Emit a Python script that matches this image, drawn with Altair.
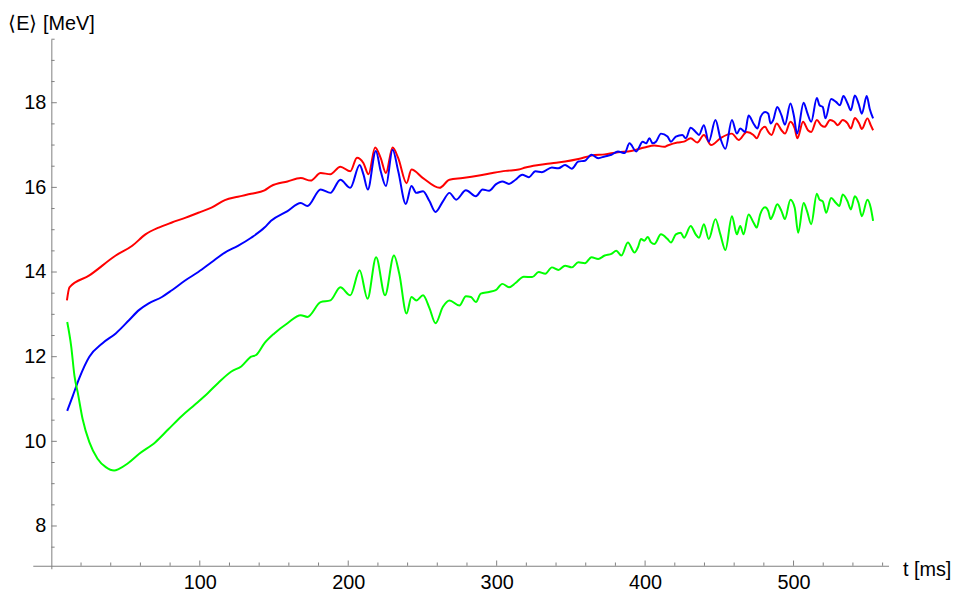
import altair as alt
import pandas as pd

# ---- data ----
t_red = [10.5, 12.2, 25.6, 43.4, 54.5, 63.4, 72.3, 81.2, 90.1, 99.0, 107.9, 116.9, 125.7, 134.6, 143.6,
         148.0, 159.1, 168.0, 174.7, 181.4, 188.0, 194.7, 201.4, 205.9, 210.3, 213.7, 218.1, 221.9, 225.4,
         229.9, 233.7, 239.3, 242.6, 250.4, 261.5, 268.2, 277.1, 288.2, 297.2, 306.0, 314.9, 319.4, 328.3,
         337.2, 346.1, 355.0, 363.9, 372.8, 381.7, 390.6, 399.5, 406.2, 412.9, 415.1, 421.8, 426.2, 430.7,
         435.1, 439.6, 444.5, 450.7, 458.5, 463.0, 468.5, 473.0, 475.2, 477.9, 480.8, 483.0, 485.2, 488.6,
         491.9, 494.2, 497.9, 500.8, 502.6, 506.4, 509.7, 511.9, 515.7, 518.6, 520.9, 524.6, 527.5, 529.8,
         533.1, 536.4, 538.6, 541.3, 544.2, 546.0, 549.8, 552.0, 553.6]
e_red = [13.33, 13.64, 13.92, 14.39, 14.62, 14.89, 15.05, 15.17, 15.28, 15.40, 15.52, 15.70, 15.78, 15.85, 15.93,
         16.03, 16.14, 16.22, 16.16, 16.34, 16.31, 16.49, 16.38, 16.70, 16.57, 16.31, 16.94, 16.69, 16.34,
         16.94, 16.69, 16.10, 16.42, 16.22, 15.99, 16.18, 16.22, 16.28, 16.34, 16.39, 16.42, 16.47, 16.53,
         16.57, 16.61, 16.67, 16.75, 16.78, 16.83, 16.86, 16.94, 16.99, 16.96, 16.99, 17.06, 17.08, 17.16,
         17.06, 17.24, 17.00, 17.16, 17.27, 17.12, 17.31, 17.24, 17.16, 17.35, 17.43, 17.31, 17.24, 17.51,
         17.35, 17.27, 17.55, 17.39, 17.16, 17.55, 17.35, 17.31, 17.59, 17.47, 17.43, 17.59, 17.55, 17.47,
         17.59, 17.51, 17.39, 17.64, 17.51, 17.38, 17.63, 17.47, 17.35]

t_blue = [10.7, 14.4, 18.9, 25.6, 34.5, 43.4, 52.3, 59.0, 65.6, 74.5, 81.2, 90.1, 99.0, 107.9, 116.9, 125.7,
          134.6, 143.6, 148.0, 159.1, 168.0, 172.5, 181.4, 188.0, 194.7, 201.4, 207.7, 210.3, 213.2, 218.6,
          221.9, 225.4, 229.9, 233.7, 238.8, 242.6, 245.9, 250.4, 254.8, 258.8, 263.8, 268.2, 272.7, 279.3,
          286.0, 290.5, 294.9, 299.4, 303.8, 308.3, 312.7, 317.2, 321.6, 326.1, 330.5, 337.2, 341.6, 346.1,
          350.6, 355.0, 359.5, 363.9, 368.4, 372.8, 377.3, 381.7, 386.2, 389.5, 394.0, 398.4, 400.7, 402.9,
          405.1, 407.3, 410.7, 415.1, 417.4, 420.7, 425.1, 427.4, 430.7, 434.1, 436.3, 439.6, 442.9, 447.4,
          450.7, 454.1, 458.5, 461.8, 464.1, 467.4, 469.7, 473.0, 475.7, 477.9, 480.8, 483.0, 484.5, 486.3,
          489.0, 491.9, 494.2, 497.9, 500.2, 502.4, 506.8, 509.1, 511.9, 515.7, 517.5, 519.7, 521.5, 525.3,
          528.6, 531.3, 533.6, 536.4, 538.6, 541.3, 543.8, 546.0, 549.3, 551.3, 553.6]
e_blue = [10.72, 11.07, 11.50, 12.00, 12.32, 12.55, 12.86, 13.10, 13.26, 13.41, 13.57, 13.80, 14.00, 14.23, 14.46, 14.62,
          14.81, 15.05, 15.21, 15.44, 15.63, 15.56, 15.95, 15.87, 16.18, 15.99, 16.53, 16.30, 15.95, 16.86,
          16.38, 16.03, 16.89, 16.38, 15.61, 16.03, 15.87, 15.91, 15.67, 15.42, 15.67, 15.87, 15.71, 15.93,
          15.79, 15.95, 15.92, 16.07, 16.14, 16.08, 16.18, 16.30, 16.24, 16.38, 16.36, 16.47, 16.45, 16.53,
          16.44, 16.61, 16.63, 16.77, 16.69, 16.73, 16.77, 16.85, 16.81, 17.04, 16.85, 17.08, 17.04, 17.16,
          17.04, 17.08, 17.27, 17.20, 17.08, 17.20, 17.24, 17.16, 17.41, 17.31, 17.24, 17.47, 17.08, 17.59,
          17.16, 16.91, 17.59, 17.27, 17.39, 17.31, 17.70, 17.51, 17.39, 17.67, 17.78, 17.74, 17.51, 17.59,
          17.90, 17.70, 17.48, 17.98, 17.70, 17.27, 18.00, 17.78, 17.55, 18.11, 17.94, 17.90, 17.63, 18.09,
          18.02, 17.94, 18.16, 17.98, 17.82, 18.17, 17.98, 17.74, 18.16, 17.86, 17.63]

t_green = [10.7, 13.4, 15.6, 17.8, 21.1, 25.6, 31.1, 36.7, 42.3, 45.6, 51.2, 59.0, 70.1, 79.0, 87.9, 96.8,
           105.7, 112.4, 121.3, 127.9, 134.6, 138.0, 143.6, 150.2, 159.1, 168.0, 172.5, 181.4, 188.0, 194.7,
           201.4, 207.7, 213.0, 218.8, 224.8, 230.8, 234.4, 239.3, 242.6, 245.9, 250.4, 254.8, 258.8, 263.8,
           268.2, 274.9, 279.3, 282.7, 286.0, 289.3, 294.9, 299.4, 303.8, 308.3, 312.7, 318.3, 323.9, 328.3,
           332.8, 337.2, 341.6, 346.1, 350.6, 355.0, 359.5, 363.9, 368.4, 372.8, 377.3, 380.6, 384.0, 388.4,
           392.9, 395.1, 397.3, 399.5, 401.8, 404.0, 406.2, 410.7, 415.1, 417.4, 420.7, 424.0, 426.2, 430.7,
           434.1, 436.3, 439.6, 442.9, 447.4, 450.7, 454.1, 458.5, 461.8, 464.1, 466.3, 469.7, 473.0, 475.2,
           477.5, 480.8, 483.0, 484.5, 486.3, 489.0, 491.9, 494.2, 497.9, 500.8, 503.1, 506.8, 509.1, 511.9,
           515.7, 517.5, 519.7, 522.0, 525.3, 528.6, 530.9, 533.1, 536.4, 538.6, 541.3, 543.8, 546.0, 549.8,
           552.0, 553.6]
e_green = [12.82, 12.24, 11.54, 11.15, 10.52, 9.98, 9.59, 9.39, 9.31, 9.35, 9.47, 9.70, 9.98, 10.29, 10.60, 10.87,
           11.15, 11.38, 11.65, 11.77, 12.00, 12.04, 12.32, 12.55, 12.79, 12.98, 12.94, 13.29, 13.33, 13.64,
           13.45, 14.04, 13.37, 14.35, 13.45, 14.39, 13.96, 13.02, 13.41, 13.33, 13.45, 13.14, 12.79, 13.18,
           13.33, 13.21, 13.43, 13.41, 13.29, 13.49, 13.53, 13.57, 13.72, 13.64, 13.74, 13.89, 13.88, 14.00,
           13.96, 14.11, 14.05, 14.15, 14.11, 14.23, 14.21, 14.35, 14.31, 14.39, 14.43, 14.50, 14.39, 14.70,
           14.46, 14.58, 14.78, 14.74, 14.83, 14.70, 14.66, 14.89, 14.78, 14.70, 14.89, 14.93, 14.81, 15.09,
           14.89, 14.81, 15.13, 14.78, 15.25, 14.89, 14.52, 15.32, 14.89, 15.09, 14.89, 15.36, 15.17, 15.05,
           15.36, 15.53, 15.44, 15.25, 15.36, 15.60, 15.44, 15.25, 15.71, 15.52, 14.93, 15.63, 15.44, 15.13,
           15.85, 15.71, 15.67, 15.40, 15.75, 15.63, 15.56, 15.83, 15.67, 15.48, 15.79, 15.63, 15.32, 15.71,
           15.52, 15.21]

series_names = ["red", "blue", "green"]
series_colors = ["#ff0000", "#0000ff", "#00ff00"]

x_labels = [100, 200, 300, 400, 500]
y_labels = [8, 10, 12, 14, 16, 18]
x_minor = [v for v in range(20, 561, 20) if v not in x_labels]
y_minor = [v / 2 for v in range(15, 40) if v / 2 not in y_labels]

X_DOMAIN = [-12.5, 564]
Y_DOMAIN = [6.99, 19.5]
X_AXIS_Y = 7.06
FONT = "Liberation Sans"
GRAY = "#7f7f7f"

rows = []
for name, ts, es in [("red", t_red, e_red), ("blue", t_blue, e_blue), ("green", t_green, e_green)]:
    for i, (t, e) in enumerate(zip(ts, es)):
        rows.append({"series": name, "t": t, "E": e, "i": i})
df = pd.DataFrame(rows)

xscale = alt.Scale(domain=X_DOMAIN, nice=False, zero=False)
yscale = alt.Scale(domain=Y_DOMAIN, nice=False, zero=False)

xaxis = alt.Axis(
    values=x_labels, title="t [ms]", grid=False, ticks=False,
    domainColor=GRAY, domainWidth=1, offset=-3,
    labelFont=FONT, labelFontSize=20, labelColor="black", labelPadding=7,
    labelFlush=False, labelOverlap=False,
    titleFont=FONT, titleFontSize=20, titleFontWeight="normal", titleColor="black",
    titleX=877, titleY=4, titleAlign="left", titleBaseline="middle", titleAnchor="start")
yaxis = alt.Axis(
    values=y_labels, title="⟨E⟩ [MeV]", grid=False, ticks=False,
    domainColor=GRAY, domainWidth=1, offset=-18.7,
    labelFont=FONT, labelFontSize=20, labelColor="black", labelPadding=5.5,
    labelFlush=False, labelOverlap=False,
    titleFont=FONT, titleFontSize=20, titleFontWeight="normal", titleColor="black",
    titleAngle=0, titleX=-44, titleY=-16, titleAlign="left", titleBaseline="middle",
    titleAnchor="start")

lines = alt.Chart(df).mark_line(strokeWidth=2, clip=True, interpolate="monotone").encode(
    x=alt.X("t:Q", scale=xscale, axis=xaxis, title="t [ms]"),
    y=alt.Y("E:Q", scale=yscale, axis=yaxis, title="⟨E⟩ [MeV]"),
    color=alt.Color("series:N", scale=alt.Scale(domain=series_names, range=series_colors), legend=None),
    order="i:Q",
)

def yticks(vals, length):
    d = pd.DataFrame({"E": vals, "t": [0.0] * len(vals)})
    return alt.Chart(d).mark_rule(color=GRAY, strokeWidth=1, x2Offset=length).encode(
        y=alt.Y("E:Q", title="⟨E⟩ [MeV]"),
        x=alt.X("t:Q", title="t [ms]"),
        x2="t:Q",
    )

def xticks(vals, length):
    d = pd.DataFrame({"t": vals, "E": [X_AXIS_Y] * len(vals)})
    return alt.Chart(d).mark_rule(color=GRAY, strokeWidth=1, y2Offset=-length).encode(
        x=alt.X("t:Q", title="t [ms]"),
        y=alt.Y("E:Q", title="⟨E⟩ [MeV]"),
        y2="E:Q",
    )

chart = alt.layer(
    lines,
    yticks(y_labels, 5.5), yticks(y_minor, 3.3),
    xticks(x_labels, 5.3), xticks(x_minor, 3.3),
).properties(
    width=863, height=534,
    background="white",
    autosize=alt.AutoSizeParams(type="none"),
    padding={"left": 25, "top": 29, "right": 64, "bottom": 26},
).configure_view(stroke=None)

chart.save("out.html", embed_options={"renderer": "svg", "actions": False})
